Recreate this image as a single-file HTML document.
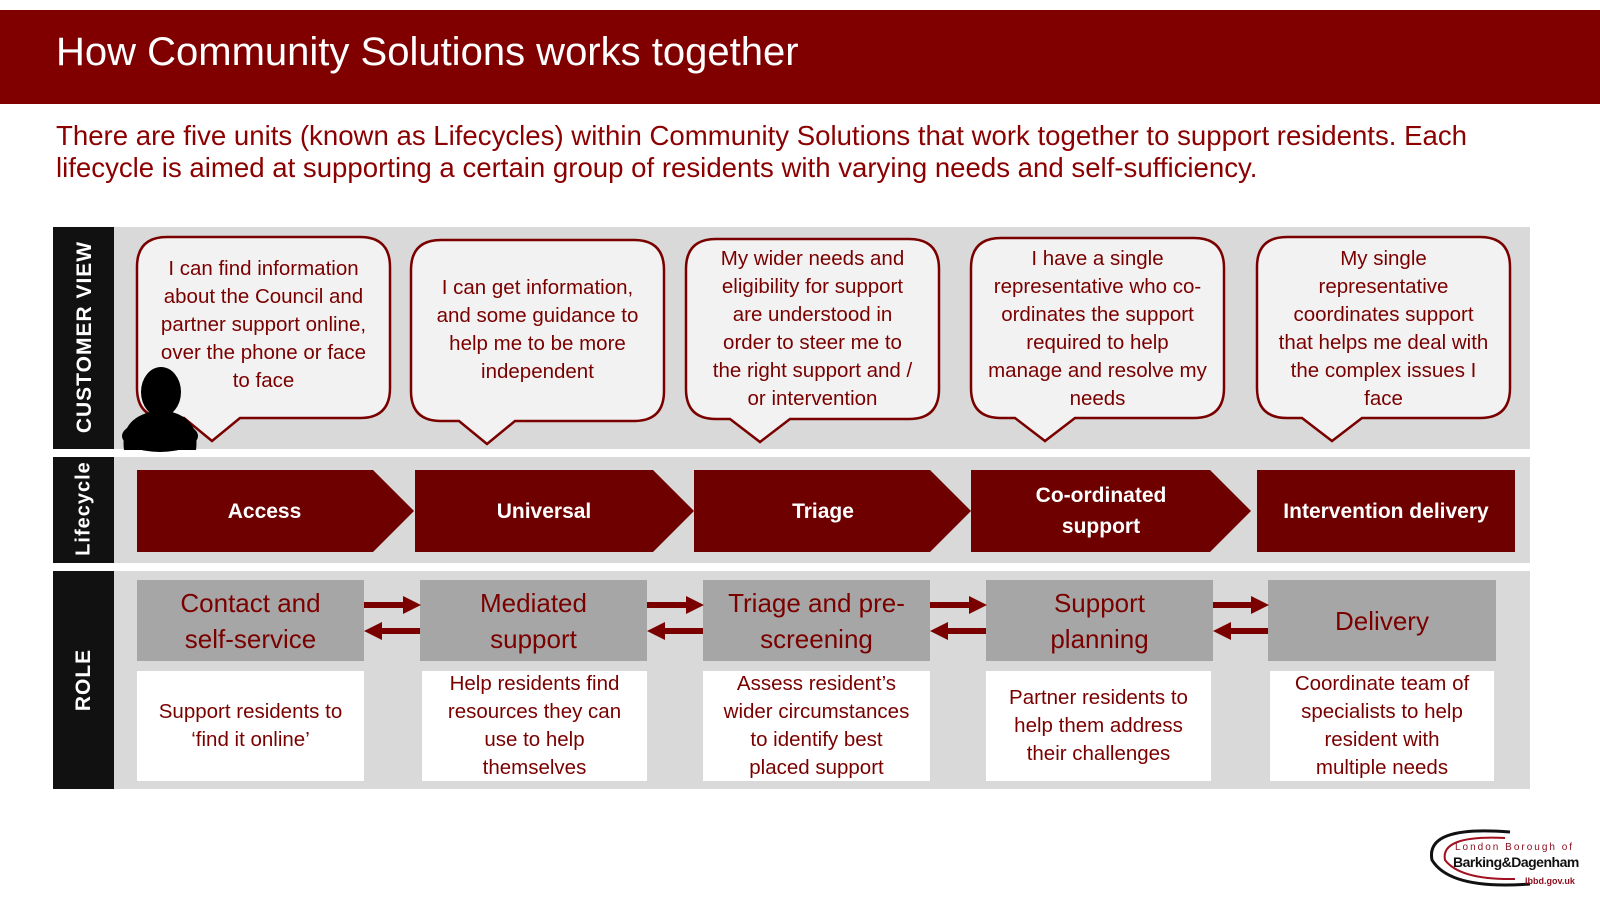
<!DOCTYPE html>
<html><head><meta charset="utf-8"><style>
body{margin:0;width:1600px;height:900px;background:#fff;position:relative;overflow:hidden;font-family:"Liberation Sans",sans-serif}
.a{position:absolute;display:flex;align-items:center;justify-content:center;text-align:center;box-sizing:border-box;white-space:nowrap}
.bt{color:#7a0000;font-size:20.5px;line-height:28px}
.ct{color:#fff;font-weight:bold;font-size:21px;line-height:31px}
.rt{color:#7a0000;font-size:26px;line-height:36px}
.wt{color:#7a0000;font-size:20.5px;line-height:28px}
.lab{position:absolute;color:#fff;font-weight:bold;font-size:21px;transform:rotate(-90deg);white-space:nowrap;letter-spacing:1px}
</style></head><body>
<div style="position:absolute;left:0;top:10px;width:1600px;height:94px;background:#800000"></div>
<div style="position:absolute;left:56px;top:30px;color:#fff;font-size:40px">How Community Solutions works together</div>
<div style="position:absolute;left:56px;top:120px;width:1540px;color:#8b0000;font-size:27.6px;line-height:32px;white-space:nowrap">There are five units (known as Lifecycles) within Community Solutions that work together to support residents. Each<br>lifecycle is aimed at supporting a certain group of residents with varying needs and self-sufficiency.</div>

<svg width="1600" height="900" style="position:absolute;left:0;top:0">
<rect x="53" y="227" width="61" height="222" fill="#111"/>
<rect x="114" y="227" width="1416" height="222" fill="#d9d9d9"/>
<rect x="53" y="457" width="61" height="106" fill="#111"/>
<rect x="114" y="457" width="1416" height="106" fill="#d9d9d9"/>
<rect x="53" y="571" width="61" height="218" fill="#111"/>
<rect x="114" y="571" width="1416" height="218" fill="#d9d9d9"/>
<g fill="#f2f2f2" stroke="#7a0000" stroke-width="2.5">
<path d="M167 237H360Q390 237 390 267V388Q390 418 360 418H240L212 441L184 418H167Q137 418 137 388V267Q137 237 167 237Z"/>
<path d="M441 240H634Q664 240 664 270V391Q664 421 634 421H515L487 444L459 421H441Q411 421 411 391V270Q411 240 441 240Z"/>
<path d="M716 239H909Q939 239 939 269V389Q939 419 909 419H790L760 442L730 419H716Q686 419 686 389V269Q686 239 716 239Z"/>
<path d="M1001 238H1194Q1224 238 1224 268V388Q1224 418 1194 418H1075L1045 441L1015 418H1001Q971 418 971 388V268Q971 238 1001 238Z"/>
<path d="M1287 237H1480Q1510 237 1510 267V388Q1510 418 1480 418H1362L1332 441L1302 418H1287Q1257 418 1257 388V267Q1257 237 1287 237Z"/>
</g>
<ellipse cx="161" cy="392" rx="20" ry="25" fill="#000"/>
<path d="M124 450Q120 420 150 412H172Q200 420 196 450Z" fill="#000"/>
<ellipse cx="160" cy="436" rx="38" ry="16" fill="#000"/>
<g fill="#6e0000">
<path d="M137 470H373L414 511L373 552H137Z"/>
<path d="M415 470H653L694 511L653 552H415Z"/>
<path d="M694 470H930L971 511L930 552H694Z"/>
<path d="M971 470H1210L1251 511L1210 552H971Z"/>
<rect x="1257" y="470" width="258" height="82"/>
</g>
<g fill="#a6a6a6">
<rect x="137" y="580" width="227" height="81"/><rect x="420" y="580" width="227" height="81"/><rect x="703" y="580" width="227" height="81"/><rect x="986" y="580" width="227" height="81"/><rect x="1268" y="580" width="228" height="81"/>
</g>
<g fill="#fff">
<rect x="137" y="671" width="227" height="110"/><rect x="422" y="671" width="225" height="110"/><rect x="703" y="671" width="227" height="110"/><rect x="986" y="671" width="225" height="110"/><rect x="1270" y="671" width="224" height="110"/>
</g>
<g fill="#7a0000">
<path d="M364 602H403V596L421 605L403 614V608H364Z"/><path d="M420 628H382V622L364 631L382 640V634H420Z"/>
<path d="M647 602H686V596L704 605L686 614V608H647Z"/><path d="M703 628H665V622L647 631L665 640V634H703Z"/>
<path d="M930 602H969V596L987 605L969 614V608H930Z"/><path d="M986 628H948V622L930 631L948 640V634H986Z"/>
<path d="M1213 602H1251V596L1269 605L1251 614V608H1213Z"/><path d="M1268 628H1231V622L1213 631L1231 640V634H1268Z"/>
</g>
<path d="M1510 832Q1425 825 1432 860Q1450 890 1530 884" fill="none" stroke="#111" stroke-width="3"/>
<path d="M1505 838Q1440 835 1445 860Q1460 880 1515 879" fill="none" stroke="#a01020" stroke-width="2"/>
</svg>

<div class="lab" style="left:-25px;top:325px;width:220px;text-align:center">CUSTOMER VIEW</div>
<div class="lab" style="left:34px;top:497px;width:100px;text-align:center;font-size:20px">Lifecycle</div>
<div class="lab" style="left:34px;top:668px;width:100px;text-align:center">ROLE</div>

<div class="a bt" style="left:137px;top:245px;width:253px;height:160px">I can find information<br>about the Council and<br>partner support online,<br>over the phone or face<br>to face</div>
<div class="a bt" style="left:411px;top:245px;width:253px;height:170px">I can get information,<br>and some guidance to<br>help me to be more<br>independent</div>
<div class="a bt" style="left:686px;top:242px;width:253px;height:174px">My wider needs and<br>eligibility for support<br>are understood in<br>order to steer me to<br>the right support and /<br>or intervention</div>
<div class="a bt" style="left:971px;top:242px;width:253px;height:174px">I have a single<br>representative who co-<br>ordinates the support<br>required to help<br>manage and resolve my<br>needs</div>
<div class="a bt" style="left:1257px;top:242px;width:253px;height:174px">My single<br>representative<br>coordinates support<br>that helps me deal with<br>the complex issues I<br>face</div>

<div class="a ct" style="left:137px;top:470px;width:255px;height:82px">Access</div>
<div class="a ct" style="left:415px;top:470px;width:258px;height:82px">Universal</div>
<div class="a ct" style="left:694px;top:470px;width:258px;height:82px">Triage</div>
<div class="a ct" style="left:971px;top:470px;width:260px;height:82px">Co-ordinated<br>support</div>
<div class="a ct" style="left:1257px;top:470px;width:258px;height:82px">Intervention delivery</div>

<div class="a rt" style="left:137px;top:580px;width:227px;height:81px">Contact and<br>self-service</div>
<div class="a rt" style="left:420px;top:580px;width:227px;height:81px">Mediated<br>support</div>
<div class="a rt" style="left:703px;top:580px;width:227px;height:81px">Triage and pre-<br>screening</div>
<div class="a rt" style="left:986px;top:580px;width:227px;height:81px">Support<br>planning</div>
<div class="a rt" style="left:1268px;top:580px;width:228px;height:81px">Delivery</div>

<div class="a wt" style="left:137px;top:671px;width:227px;height:110px">Support residents to<br>‘find it online’</div>
<div class="a wt" style="left:422px;top:671px;width:225px;height:110px">Help residents find<br>resources they can<br>use to help<br>themselves</div>
<div class="a wt" style="left:703px;top:671px;width:227px;height:110px">Assess resident’s<br>wider circumstances<br>to identify best<br>placed support</div>
<div class="a wt" style="left:986px;top:671px;width:225px;height:110px">Partner residents to<br>help them address<br>their challenges</div>
<div class="a wt" style="left:1270px;top:671px;width:224px;height:110px">Coordinate team of<br>specialists to help<br>resident with<br>multiple needs</div>

<div style="position:absolute;left:1455px;top:842px;color:#8b1020;font-size:10px;letter-spacing:2px">London Borough of</div>
<div style="position:absolute;left:1453px;top:854px;color:#111;font-size:14px;font-weight:bold;letter-spacing:-0.5px">Barking&amp;Dagenham</div>
<div style="position:absolute;left:1525px;top:876px;color:#8b1020;font-size:9px;font-weight:bold">lbbd.gov.uk</div>
</body></html>
